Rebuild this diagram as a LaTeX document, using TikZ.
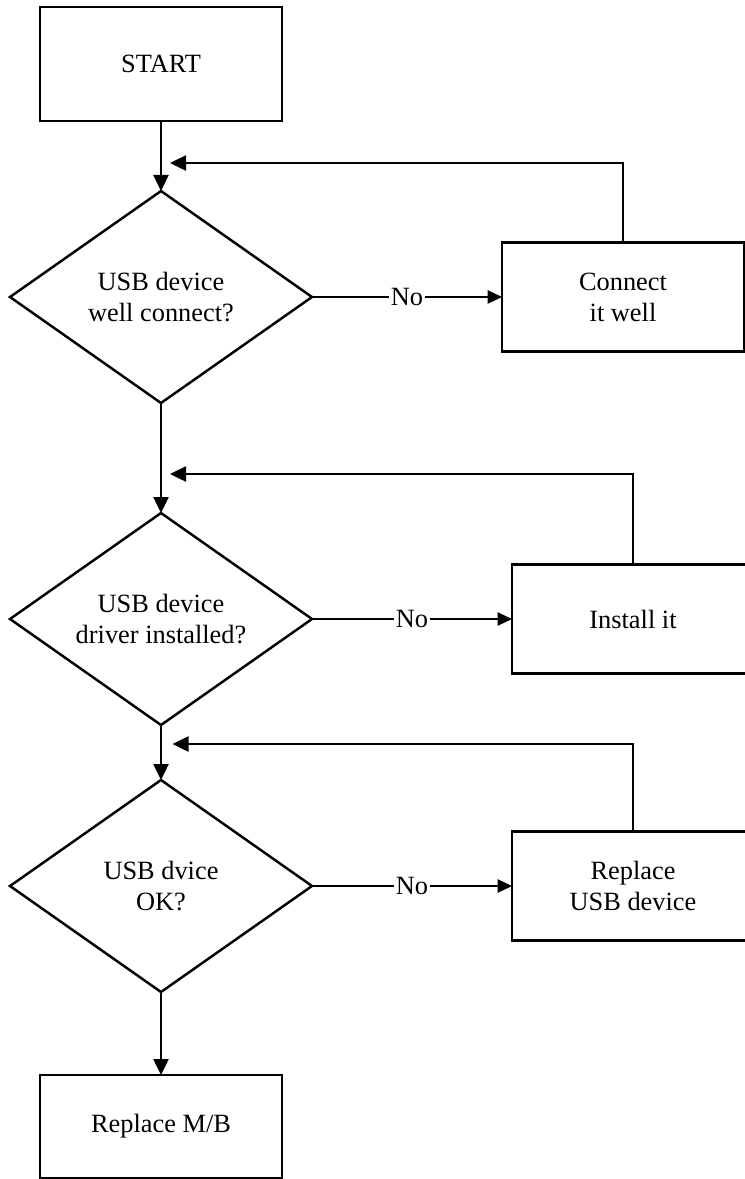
\documentclass[tikz,border=0pt]{standalone}
\usepackage{fontspec}
\setmainfont{Liberation Serif}
\usetikzlibrary{shapes.geometric, arrows.meta, positioning}

\begin{document}
\begin{tikzpicture}[
    node distance=1.4cm and 3.8cm,
    box/.style={rectangle, draw=black, line width=1.4pt, fill=white, outer sep=0pt,
                minimum width=4.84cm, minimum height=2.18cm,
                align=center, font=\fontsize{15pt}{17.6pt}\selectfont},
    decision/.style={diamond, aspect=1.5, draw=black, line width=1.4pt, inner sep=0pt,
                     outer sep=0pt, minimum width=6.04cm, minimum height=4.24cm,
                     align=center, font=\fontsize{15pt}{17.6pt}\selectfont},
    arr/.style={-{Triangle[length=0.32cm,width=0.3cm]}, line width=1.4pt, draw=black},
    noarr/.style={-{Triangle[length=0.29cm,width=0.27cm]}, line width=0.7pt, draw=black},
    lbl/.style={fill=white, inner sep=1pt, font=\fontsize{15pt}{17.6pt}\selectfont}
]
\useasboundingbox (0,0) rectangle (14.9,-23.58);

\node[box, minimum height=2.28cm] (start) at (3.22,-1.28) {START};
\node[decision, below=1.4cm of start] (conn) {USB device\\ well connect?};
\node[box, right=3.8cm of conn]        (fixconn) {Connect\\ it well};
\node[decision, below=2.2cm of conn]   (drv)     {USB device\\ driver installed?};
\node[box, right=4.0cm of drv]         (fixdrv)  {Install it};
\node[decision, below=1.1cm of drv]    (dev)     {USB dvice\\ OK?};
\node[box, right=4.0cm of dev]         (fixdev)  {Replace\\ USB device};
\node[box, below=1.66cm of dev, minimum height=2.06cm] (mb) {Replace M/B};

% loop-back points
\coordinate (m1) at (3.40,-3.26);
\coordinate (m2) at (3.40,-9.48);
\coordinate (m3) at (3.45,-14.88);

\draw[arr] (start) -- (conn);
\draw[arr] (conn)  -- (drv);
\draw[arr] (drv)   -- (dev);
\draw[arr] (dev)   -- (mb);

\draw[noarr] (conn) -- node[lbl] {No} (fixconn);
\draw[noarr] (drv)  -- node[lbl] {No} (fixdrv);
\draw[noarr] (dev)  -- node[lbl] {No} (fixdev);

\draw[arr] (fixconn.north) |- (m1);
\draw[arr] (fixdrv.north)  |- (m2);
\draw[arr] (fixdev.north)  |- (m3);
\end{tikzpicture}
\end{document}
